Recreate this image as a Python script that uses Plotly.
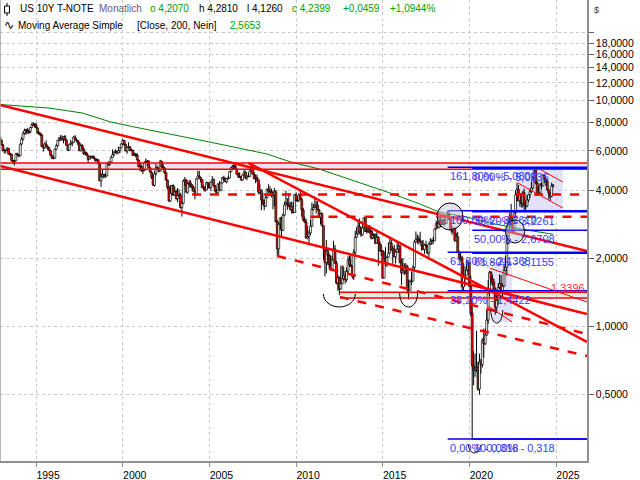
import numpy as np
import pandas as pd
import plotly.graph_objects as go

# ---------------- DATA (monthly OHLC of US 10Y T-Note yield, Dec 1992 .. Nov 2024) -------------
opens = [6.89,
 6.69,6.39,6.03,6.03,6.05,6.16,5.80,5.81,5.45,5.38,5.43,5.82,
 5.79,5.70,6.44,6.77,7.20,7.38,7.43,7.24,7.31,7.61,7.81,7.91,
 7.82,7.58,7.20,7.20,7.06,6.28,6.20,6.43,6.28,6.18,6.02,5.74,
 5.57,5.58,6.10,6.33,6.67,6.85,6.71,6.79,6.94,6.70,6.34,6.04,
 6.42,6.49,6.55,6.90,6.72,6.66,6.50,6.01,6.34,6.10,5.83,5.87,
 5.74,5.51,5.62,5.65,5.67,5.55,5.45,5.49,5.28,4.42,4.61,4.71,
 4.65,4.65,5.29,5.24,5.35,5.62,5.78,5.90,5.97,5.88,6.02,6.19,
 6.44,6.67,6.41,6.00,6.21,6.27,6.03,6.03,5.73,5.80,5.75,5.47,
 5.11,5.11,4.90,4.92,5.34,5.38,5.41,5.05,4.83,4.59,4.23,4.75,
 5.05,5.03,4.88,5.40,5.09,5.04,4.80,4.46,4.14,3.60,3.89,4.21,
 3.82,3.96,3.69,3.80,3.84,3.37,3.52,4.41,4.46,3.94,4.29,4.33,
 4.25,4.13,3.97,3.84,4.51,4.65,4.58,4.48,4.12,4.12,4.03,4.35,
 4.22,4.13,4.36,4.48,4.20,3.98,3.91,4.28,4.02,4.33,4.56,4.49,
 4.39,4.52,4.55,4.85,5.05,5.12,5.14,4.98,4.73,4.63,4.60,4.46,
 4.70,4.83,4.56,4.64,4.62,4.89,5.02,4.74,4.53,4.58,4.47,3.94,
 4.03,3.64,3.51,3.41,3.73,4.06,3.97,3.95,3.81,3.83,3.95,2.92,
 2.21,2.84,3.02,2.67,3.12,3.46,3.53,3.48,3.40,3.31,3.39,3.20,
 3.84,3.61,3.61,3.83,3.66,3.29,2.97,2.91,2.47,2.51,2.60,2.79,
 3.30,3.37,3.42,3.45,3.29,3.05,3.16,2.80,2.22,1.92,2.17,2.07,
 1.88,1.80,1.98,2.21,1.91,1.56,1.65,1.47,1.55,1.63,1.69,1.62,
 1.76,1.98,1.88,1.85,1.67,2.13,2.49,2.58,2.78,2.61,2.55,2.74,
 3.03,2.64,2.65,2.72,2.65,2.48,2.53,2.56,2.34,2.49,2.34,2.16,
 2.17,1.64,2.00,1.92,2.03,2.12,2.35,2.18,2.21,2.04,2.14,2.21,
 2.27,1.92,1.73,1.77,1.83,1.85,1.47,1.45,1.58,1.59,1.83,2.37,
 2.44,2.45,2.39,2.39,2.28,2.20,2.30,2.29,2.12,2.33,2.38,2.41,
 2.40,2.71,2.86,2.74,2.95,2.83,2.85,2.96,2.86,3.06,3.14,2.99,
 2.68,2.63,2.72,2.41,2.50,2.13,2.00,2.02,1.50,1.67,1.69,1.78,
 1.92,1.51,1.15,0.67,0.64,0.65,0.66,0.53,0.70,0.68,0.87,0.84,
 0.92,1.07,1.41,1.74,1.63,1.58,1.47,1.22,1.31,1.49,1.55,1.43,
 1.51,1.78,1.83,2.34,2.89,2.84,3.01,2.65,3.19,3.83,4.05,3.61,
 3.87,3.51,3.92,3.47,3.42,3.64,3.84,3.96,4.11,4.57,4.93,4.33,
 3.88,3.91,4.25,4.20,4.68,4.50,4.40,4.03,3.90,3.78,4.207]

highs = [6.93,
 6.72,6.42,6.10,6.08,6.23,6.19,5.90,5.84,5.48,5.47,5.88,5.89,
 5.82,6.46,6.91,7.27,7.53,7.50,7.59,7.47,7.64,7.95,8.05,7.96,
 7.96,7.62,7.33,7.22,7.10,6.38,6.54,6.68,6.34,6.22,6.06,5.78,
 5.70,6.13,6.44,6.72,6.92,7.06,7.02,6.98,7.06,6.74,6.39,6.44,
 6.72,6.58,6.97,7.05,6.82,6.71,6.55,6.42,6.42,6.22,5.97,5.94,
 5.76,5.66,5.74,5.71,5.73,5.58,5.56,5.51,5.31,4.79,4.95,4.75,
 4.78,5.30,5.40,5.38,5.68,6.10,6.00,6.10,6.01,6.27,6.21,6.50,
 6.79,6.69,6.47,6.25,6.55,6.29,6.13,6.09,5.90,5.88,5.86,5.49,
 5.35,5.22,4.99,5.39,5.56,5.48,5.45,5.07,4.87,4.71,4.89,5.26,
 5.13,5.05,5.48,5.43,5.27,5.10,4.87,4.47,4.20,4.24,4.24,4.27,
 4.17,4.03,4.11,4.06,3.92,3.60,4.49,4.60,4.50,4.37,4.46,4.45,
 4.28,4.20,4.00,4.55,4.90,4.90,4.60,4.50,4.25,4.19,4.38,4.37,
 4.32,4.39,4.64,4.53,4.24,4.07,4.32,4.41,4.34,4.61,4.66,4.58,
 4.56,4.64,4.87,5.09,5.19,5.25,5.20,5.01,4.80,4.83,4.64,4.74,
 4.93,4.90,4.66,4.80,4.91,5.32,5.18,4.85,4.71,4.72,4.49,4.27,
 4.04,3.92,3.64,3.87,4.09,4.27,4.18,4.08,4.00,4.11,4.03,2.97,
 2.90,3.06,3.07,3.17,3.58,4.00,3.71,3.90,3.57,3.58,3.56,3.86,
 3.93,3.78,3.90,4.01,3.71,3.36,3.07,3.00,2.78,2.67,2.97,3.55,
 3.49,3.77,3.60,3.59,3.32,3.19,3.22,2.82,2.25,2.42,2.24,2.11,
 2.07,2.06,2.40,2.30,1.96,1.70,1.67,1.86,1.87,1.85,1.77,1.83,
 2.05,2.07,2.07,1.86,2.20,2.66,2.75,2.93,3.01,2.76,2.84,3.05,
 3.04,2.78,2.82,2.82,2.69,2.66,2.60,2.58,2.65,2.51,2.40,2.32,
 2.19,2.15,2.25,2.06,2.36,2.50,2.48,2.27,2.30,2.18,2.37,2.33,
 2.30,2.00,2.01,1.91,1.91,1.88,1.61,1.62,1.75,1.87,2.42,2.64,
 2.56,2.53,2.63,2.40,2.42,2.33,2.40,2.30,2.36,2.47,2.44,2.50,
 2.73,2.95,2.92,3.03,3.13,3.00,3.00,3.01,3.10,3.26,3.24,3.04,
 2.80,2.74,2.76,2.60,2.63,2.17,2.13,2.06,1.91,1.85,1.97,1.95,
 1.94,1.68,1.28,0.78,0.76,0.96,0.70,0.76,0.72,0.89,0.98,0.98,
 1.19,1.61,1.77,1.77,1.70,1.63,1.49,1.39,1.56,1.71,1.69,1.55,
 1.90,2.06,2.56,2.98,3.20,3.50,3.09,3.19,4.01,4.34,4.24,3.90,
 3.90,3.99,4.09,3.61,3.82,3.85,4.09,4.37,4.64,5.0236,4.95,4.41,
 4.19,4.33,4.35,4.74,4.69,4.52,4.50,4.05,3.92,4.34,4.281]

lows = [6.62,
 6.33,5.96,5.84,5.85,5.97,5.78,5.70,5.39,5.25,5.17,5.40,5.67,
 5.62,5.68,6.34,6.67,7.08,7.06,7.15,7.12,7.19,7.56,7.73,7.62,
 7.56,7.16,7.05,6.98,6.27,5.96,6.13,6.26,6.07,5.98,5.71,5.54,
 5.50,5.55,6.07,6.25,6.62,6.68,6.66,6.48,6.68,6.31,5.99,6.02,
 6.38,6.29,6.52,6.69,6.56,6.36,5.99,5.97,6.05,5.76,5.77,5.70,
 5.31,5.48,5.54,5.56,5.54,5.37,5.40,5.24,4.42,4.16,4.57,4.53,
 4.56,4.63,5.16,5.14,5.32,5.61,5.69,5.86,5.79,5.85,5.86,6.16,
 6.39,6.32,5.97,5.82,6.17,5.98,5.99,5.71,5.70,5.64,5.45,5.08,
 4.88,4.86,4.74,4.87,5.30,5.15,5.03,4.82,4.51,4.21,4.17,4.68,
 4.94,4.82,4.85,5.06,5.00,4.77,4.43,4.05,3.57,3.57,3.81,3.80,
 3.81,3.65,3.56,3.78,3.33,3.07,3.50,4.20,3.92,3.88,4.12,4.14,
 3.99,3.96,3.66,3.82,4.50,4.56,4.35,4.10,4.00,3.95,4.02,4.06,
 4.10,3.99,4.34,4.16,3.97,3.88,3.90,4.01,3.98,4.31,4.42,4.35,
 4.31,4.49,4.53,4.83,4.99,4.95,4.96,4.72,4.55,4.56,4.43,4.43,
 4.66,4.50,4.45,4.58,4.61,4.87,4.73,4.48,4.32,4.37,3.86,3.86,
 3.28,3.46,3.28,3.39,3.71,3.91,3.78,3.74,3.31,3.41,2.89,2.04,
 2.08,2.71,2.49,2.65,3.08,3.47,3.29,3.39,3.26,3.17,3.17,3.19,
 3.58,3.56,3.58,3.64,3.07,2.93,2.88,2.45,2.44,2.33,2.54,2.77,
 3.27,3.36,3.17,3.27,3.05,2.84,2.78,1.98,1.67,1.72,1.88,1.79,
 1.80,1.79,1.97,1.90,1.54,1.44,1.38,1.46,1.54,1.60,1.55,1.58,
 1.72,1.84,1.84,1.63,1.61,2.05,2.47,2.55,2.59,2.50,2.53,2.73,
 2.62,2.58,2.59,2.59,2.43,2.44,2.44,2.32,2.34,1.86,2.16,2.06,
 1.64,1.64,1.85,1.84,2.02,2.11,2.17,1.90,2.03,1.90,2.13,2.12,
 1.91,1.53,1.72,1.69,1.71,1.40,1.32,1.45,1.53,1.59,1.77,2.36,
 2.33,2.31,2.35,2.17,2.18,2.10,2.25,2.09,2.03,2.30,2.30,2.32,
 2.40,2.69,2.73,2.73,2.76,2.82,2.81,2.81,2.85,3.05,2.98,2.68,
 2.55,2.61,2.37,2.39,2.12,1.97,1.95,1.45,1.43,1.51,1.69,1.75,
 1.50,1.11,0.318,0.55,0.60,0.63,0.52,0.50,0.62,0.66,0.73,0.83,
 0.91,1.03,1.36,1.53,1.52,1.42,1.13,1.15,1.25,1.47,1.42,1.34,
 1.50,1.76,1.68,2.31,2.71,2.79,2.57,2.57,3.13,3.57,3.61,3.40,
 3.37,3.37,3.29,3.25,3.38,3.56,3.71,3.91,4.05,4.55,4.27,3.79,
 3.82,3.87,4.07,4.19,4.34,4.21,4.02,3.67,3.60,3.74,4.126]

closes = [6.69,
 6.39,6.03,6.03,6.05,6.16,5.80,5.81,5.45,5.38,5.43,5.82,5.79,
 5.70,6.44,6.77,7.20,7.38,7.43,7.24,7.31,7.61,7.81,7.91,7.82,
 7.58,7.20,7.20,7.06,6.28,6.20,6.43,6.28,6.18,6.02,5.74,5.57,
 5.58,6.10,6.33,6.67,6.85,6.71,6.79,6.94,6.70,6.34,6.04,6.42,
 6.49,6.55,6.90,6.72,6.66,6.50,6.01,6.34,6.10,5.83,5.87,5.74,
 5.51,5.62,5.65,5.67,5.55,5.45,5.49,5.28,4.42,4.61,4.71,4.65,
 4.65,5.29,5.24,5.35,5.62,5.78,5.90,5.97,5.88,6.02,6.19,6.44,
 6.67,6.41,6.00,6.21,6.27,6.03,6.03,5.73,5.80,5.75,5.47,5.11,
 5.11,4.90,4.92,5.34,5.38,5.41,5.05,4.83,4.59,4.23,4.75,5.05,
 5.03,4.88,5.40,5.09,5.04,4.80,4.46,4.14,3.60,3.89,4.21,3.82,
 3.96,3.69,3.80,3.84,3.37,3.52,4.41,4.46,3.94,4.29,4.33,4.25,
 4.13,3.97,3.84,4.51,4.65,4.58,4.48,4.12,4.12,4.03,4.35,4.22,
 4.13,4.36,4.48,4.20,3.98,3.91,4.28,4.02,4.33,4.56,4.49,4.39,
 4.52,4.55,4.85,5.05,5.12,5.14,4.98,4.73,4.63,4.60,4.46,4.70,
 4.83,4.56,4.64,4.62,4.89,5.02,4.74,4.53,4.58,4.47,3.94,4.03,
 3.64,3.51,3.41,3.73,4.06,3.97,3.95,3.81,3.83,3.95,2.92,2.21,
 2.84,3.02,2.67,3.12,3.46,3.53,3.48,3.40,3.31,3.39,3.20,3.84,
 3.61,3.61,3.83,3.66,3.29,2.97,2.91,2.47,2.51,2.60,2.79,3.30,
 3.37,3.42,3.45,3.29,3.05,3.16,2.80,2.22,1.92,2.17,2.07,1.88,
 1.80,1.98,2.21,1.91,1.56,1.65,1.47,1.55,1.63,1.69,1.62,1.76,
 1.98,1.88,1.85,1.67,2.13,2.49,2.58,2.78,2.61,2.55,2.74,3.03,
 2.64,2.65,2.72,2.65,2.48,2.53,2.56,2.34,2.49,2.34,2.16,2.17,
 1.64,2.00,1.92,2.03,2.12,2.35,2.18,2.21,2.04,2.14,2.21,2.27,
 1.92,1.73,1.77,1.83,1.85,1.47,1.45,1.58,1.59,1.83,2.37,2.44,
 2.45,2.39,2.39,2.28,2.20,2.30,2.29,2.12,2.33,2.38,2.41,2.40,
 2.71,2.86,2.74,2.95,2.83,2.85,2.96,2.86,3.06,3.14,2.99,2.68,
 2.63,2.72,2.41,2.50,2.13,2.00,2.02,1.50,1.67,1.69,1.78,1.92,
 1.51,1.15,0.67,0.64,0.65,0.66,0.53,0.70,0.68,0.87,0.84,0.92,
 1.07,1.41,1.74,1.63,1.58,1.47,1.22,1.31,1.49,1.55,1.43,1.51,
 1.78,1.83,2.34,2.89,2.84,3.01,2.65,3.19,3.83,4.05,3.61,3.87,
 3.51,3.92,3.47,3.42,3.64,3.84,3.96,4.11,4.57,4.93,4.33,3.88,
 3.91,4.25,4.20,4.68,4.50,4.40,4.03,3.90,3.78,4.194,4.2399]

# 200-month simple moving average
ma_dates = ["1992-12-01","1995-10-01","1997-09-01","1999-04-01","2000-08-01","2002-07-01",
            "2004-06-01","2006-05-01","2008-05-01","2009-09-01","2011-05-01","2015-06-01",
            "2017-03-01","2018-04-01","2019-11-01","2021-03-01","2022-12-01","2024-11-01"]
ma_values = [9.63,9.29,8.83,8.08,7.68,7.20,6.71,6.26,5.81,5.37,4.99,3.91,3.49,3.22,3.06,2.88,2.71,2.5653]

# tick labels
y_tickvals = [0.5,1,2,4,6,8,10,12,14,16,18,20]
y_ticktext = ["0,5000","1,0000","2,0000","4,0000","6,0000","8,0000","10,0000","12,0000",
              "14,0000","16,0000","18,0000",""]
x_tickvals = ["1995-01-01","2000-01-01","2005-01-01","2010-01-01","2015-01-01","2020-01-01","2025-01-01"]
x_ticktext = ["1995","2000","2005","2010","2015","2020","2025"]

# drawing tools (dates / yield values)
X_START = "1992-12-01"
X_END = "2026-10-16"
thick_lines = [(X_START, 9.58, X_END, 2.16),
               (X_START, 5.145, X_END, 1.138),
               ("2007-04-01", 5.31, X_END, 0.856)]
dashed_lines = [("2004-01-01", 3.85, X_END, 3.85),
                ("2010-11-01", 3.07, X_END, 3.07),
                ("2008-12-01", 2.056, X_END, 0.928),
                ("2012-07-15", 1.353, X_END, 0.742)]
thin_lines = [("2021-03-01", 1.819, X_END, 1.286),
              ("2021-02-01", 1.235, "2022-06-20", 1.049),
              ("2022-10-20", 4.326, "2025-05-25", 3.353),
              ("2023-11-05", 5.09, "2025-05-25", 4.37)]
band_upper = (X_START, 4.98, 5.31)
band_lower = ("2012-07-15", 1.3396, 1.42)
lav_boxes = [("2021-04-20", "2022-06-20", 1.049, 1.934),
             ("2022-10-05", "2025-05-25", 3.186, 4.94)]

fibA_start = "2018-10-01"
fibA_levels = ["0,00%", "38,20%", "61,80%", "100,00%", "161,80%"]
fibA_values = [0.318, 1.4422, 2.1368, 3.2610, 5.0800]
fibB_start = "2020-03-01"
fibB_levels = ["100,00%", "61,80%", "50,00%", "38,20%", "0,00%"]
fibB_values = [0.318, 2.1155, 2.6708, 3.2261, 5.0236]

lower_arcs = [("2012-07-01", 1.396, 16, 13), ("2016-07-01", 1.409, 9, 14),
              ("2021-08-01", 1.185, 6, 13), ("2020-04-20", 0.2995, 6, 8)]
full_ellipses = [("2018-02-20", "2019-08-20", 2.68, 3.53),
                 ("2022-02-01", "2023-03-10", 2.347, 2.965)]

# ---------------- FIGURE ----------------
PLOT_W, PLOT_H = 587, 461
Y_LOG_MIN, Y_LOG_MAX = -0.5945, 1.4462
T0, T1 = pd.Timestamp(X_START), pd.Timestamp(X_END)

def to_paper(date, val):
    return ((pd.Timestamp(date) - T0) / (T1 - T0),
            (np.log10(val) - Y_LOG_MIN) / (Y_LOG_MAX - Y_LOG_MIN))

def px(x):
    return x / PLOT_W

def py(y):
    return 1 - y / PLOT_H

dates = pd.date_range("1992-12-01", periods=len(closes), freq="MS")
o = np.array(opens); h = np.array(highs); l = np.array(lows); c = np.array(closes)
body_lo = np.minimum(o, c)
body_hi = np.maximum(o, c)
body_len = np.maximum(body_hi - body_lo, 0.004)
body_col = np.where(c >= o, "white", "#ff0000")

# wicks: upper (high -> body top) and lower (body bottom -> low)
wx, wy = [], []
for d, hh, bt, bb, ll in zip(dates, h, body_hi, body_lo, l):
    wx += [d, d, None, d, d, None]
    wy += [hh, bt, None, bb, ll, None]

fig = go.Figure()
fig.add_trace(go.Scatter(x=wx, y=wy, mode="lines", line=dict(color="black", width=1),
                         showlegend=False, hoverinfo="skip", connectgaps=False))
fig.add_trace(go.Bar(x=dates, y=body_len, base=body_lo, width=40 * 86400000,
                     marker=dict(color=body_col, line=dict(color="black", width=0.7)),
                     showlegend=False, hoverinfo="skip"))
fig.add_trace(go.Scatter(x=ma_dates, y=ma_values, mode="lines",
                         line=dict(color="#008000", width=1),
                         showlegend=False, hoverinfo="skip"))

shapes = []
RED = "#ff0000"
shapes.append(dict(type="rect", xref="x", yref="y", x0=band_upper[0], x1=X_END,
                   y0=band_upper[1], y1=band_upper[2], fillcolor="#e4e4f8",
                   line=dict(width=0), layer="below"))
shapes.append(dict(type="rect", xref="x", yref="y", x0=band_lower[0], x1=X_END,
                   y0=band_lower[1], y1=band_lower[2], fillcolor="#e2eee2",
                   line=dict(width=0), layer="below"))
for b in (band_upper, band_lower):
    for v in (b[1], b[2]):
        shapes.append(dict(type="line", xref="x", yref="y", x0=b[0], x1=X_END, y0=v, y1=v,
                           line=dict(color=RED, width=1.5), layer="above"))
for (x0, x1, y0, y1) in lav_boxes:
    shapes.append(dict(type="rect", xref="x", yref="y", x0=x0, x1=x1, y0=y0, y1=y1,
                       fillcolor="rgba(200,200,245,0.55)", line=dict(width=0), layer="below"))
for (x0, y0, x1, y1) in thick_lines:
    shapes.append(dict(type="line", xref="x", yref="y", x0=x0, y0=y0, x1=x1, y1=y1,
                       line=dict(color=RED, width=2.5), layer="above"))
for (x0, y0, x1, y1) in dashed_lines:
    shapes.append(dict(type="line", xref="x", yref="y", x0=x0, y0=y0, x1=x1, y1=y1,
                       line=dict(color=RED, width=2.5, dash="dash"), layer="above"))
for (x0, y0, x1, y1) in thin_lines:
    shapes.append(dict(type="line", xref="x", yref="y", x0=x0, y0=y0, x1=x1, y1=y1,
                       line=dict(color=RED, width=1), layer="above"))
all_fib = [(fibA_start, v) for v in fibA_values] + [(fibB_start, v) for v in fibB_values]
for (x0, v) in all_fib:
    shapes.append(dict(type="line", xref="x", yref="y", x0=x0, x1=X_END, y0=v, y1=v,
                       line=dict(color="#0000ff", width=1.5), layer="above"))
for (x0, x1, y0, y1) in full_ellipses:
    shapes.append(dict(type="circle", xref="x", yref="y", x0=x0, x1=x1, y0=y0, y1=y1,
                       fillcolor="rgba(190,190,215,0.45)", line=dict(color="black", width=1),
                       layer="above"))
k = 0.5523
for (d, v, rx, ry) in lower_arcs:
    cx, cy = to_paper(d, v)
    a, b = rx / PLOT_W, ry / PLOT_H
    path = (f"M {cx-a},{cy} C {cx-a},{cy-k*b} {cx-k*a},{cy-b} {cx},{cy-b} "
            f"C {cx+k*a},{cy-b} {cx+a},{cy-k*b} {cx+a},{cy}")
    shapes.append(dict(type="path", xref="paper", yref="paper", path=path,
                       line=dict(color="black", width=1), layer="above"))
shapes.append(dict(type="line", xref="paper", yref="paper", x0=0, x1=0, y0=0, y1=1,
                   line=dict(color="#a0a0a0", width=1.5)))
# candle icon in header
shapes.append(dict(type="line", xref="paper", yref="paper", x0=px(7), x1=px(7), y0=py(3), y1=py(16),
                   line=dict(color="black", width=1)))
shapes.append(dict(type="rect", xref="paper", yref="paper", x0=px(4.5), x1=px(9.5), y0=py(6), y1=py(13),
                   fillcolor="white", line=dict(color="black", width=1)))

annotations = []
FONT = "Liberation Sans, Arial, sans-serif"
BLUE_TXT = "#3a3aff"

def fib_text(lab, v):
    s = f"{v:.4f}".replace(".", ",")
    if s == "0,3180":
        s = "0,318"
    return f"{lab} - {s}"

for lab, v in zip(fibA_levels, fibA_values):
    annotations.append(dict(x=fibA_start, y=np.log10(v), xref="x", yref="y",
                            text=fib_text(lab, v), showarrow=False, xanchor="left",
                            yanchor="top", yshift=-1,
                            font=dict(family=FONT, size=11, color=BLUE_TXT)))
for lab, v in zip(fibB_levels, fibB_values):
    annotations.append(dict(x=fibB_start, y=np.log10(v), xref="x", yref="y",
                            text=fib_text(lab, v), showarrow=False, xanchor="left",
                            yanchor="top", yshift=-1,
                            font=dict(family=FONT, size=11, color=BLUE_TXT)))
annotations.append(dict(x=X_END, y=np.log10(band_lower[1]), xref="x", yref="y",
                        text="1,3396", showarrow=False, xanchor="right", yanchor="bottom",
                        yshift=2, font=dict(family=FONT, size=11, color="#ff3030")))

GREEN = "#00a000"
header = [(18, 9, "US 10Y T-NOTE", "black"), (97, 9, "Monatlich", "#5c5c80"),
          (148, 9, "o 4,2070", GREEN), (197, 9, "h 4,2810", "black"),
          (245, 9, "l 4,1260", "black"), (290, 9, "c 4,2399", GREEN),
          (341, 9, "+0,0459", GREEN), (388, 9, "+1,0944%", GREEN),
          (16, 25, "Moving Average Simple", "black"), (135, 25, "[Close, 200, Nein]", "black"),
          (228, 25, "2,5653", GREEN)]
for (x, y, t, col) in header:
    annotations.append(dict(x=px(x), y=py(y), xref="paper", yref="paper", text=t,
                            showarrow=False, xanchor="left", yanchor="middle",
                            font=dict(family=FONT, size=10, color=col)))
annotations.append(dict(x=px(2), y=py(25), xref="paper", yref="paper", text="∿",
                        showarrow=False, xanchor="left", yanchor="middle",
                        font=dict(family="DejaVu Sans", size=12, color="black")))
annotations.append(dict(x=px(592), y=py(10), xref="paper", yref="paper", text="$",
                        showarrow=False, xanchor="left", yanchor="middle",
                        font=dict(family=FONT, size=9, color="#404040")))

fig.update_layout(
    width=640, height=480, margin=dict(l=0, r=53, t=0, b=19),
    paper_bgcolor="white", plot_bgcolor="white", showlegend=False,
    shapes=shapes, annotations=annotations, barmode="overlay",
    xaxis=dict(type="date", range=[X_START, X_END],
               tickvals=x_tickvals, ticktext=x_ticktext, ticks="outside", ticklen=4,
               tickcolor="#909090", showline=True, linecolor="#909090", linewidth=1.5,
               showgrid=True, gridcolor="#c8c8c8", griddash="dot", gridwidth=1,
               tickfont=dict(family=FONT, size=10.5, color="black"), ticklabelshift=12,
               zeroline=False, fixedrange=True),
    yaxis=dict(type="log", range=[Y_LOG_MIN, Y_LOG_MAX], side="right",
               tickvals=y_tickvals, ticktext=y_ticktext, ticks="outside", ticklen=5,
               tickcolor="#606060", showline=True, linecolor="#909090", linewidth=1.5,
               showgrid=True, gridcolor="#c8c8c8", griddash="dot", gridwidth=1,
               tickfont=dict(family=FONT, size=10.5, color="black"),
               zeroline=False, fixedrange=True),
)

fig.write_html("out.html")
